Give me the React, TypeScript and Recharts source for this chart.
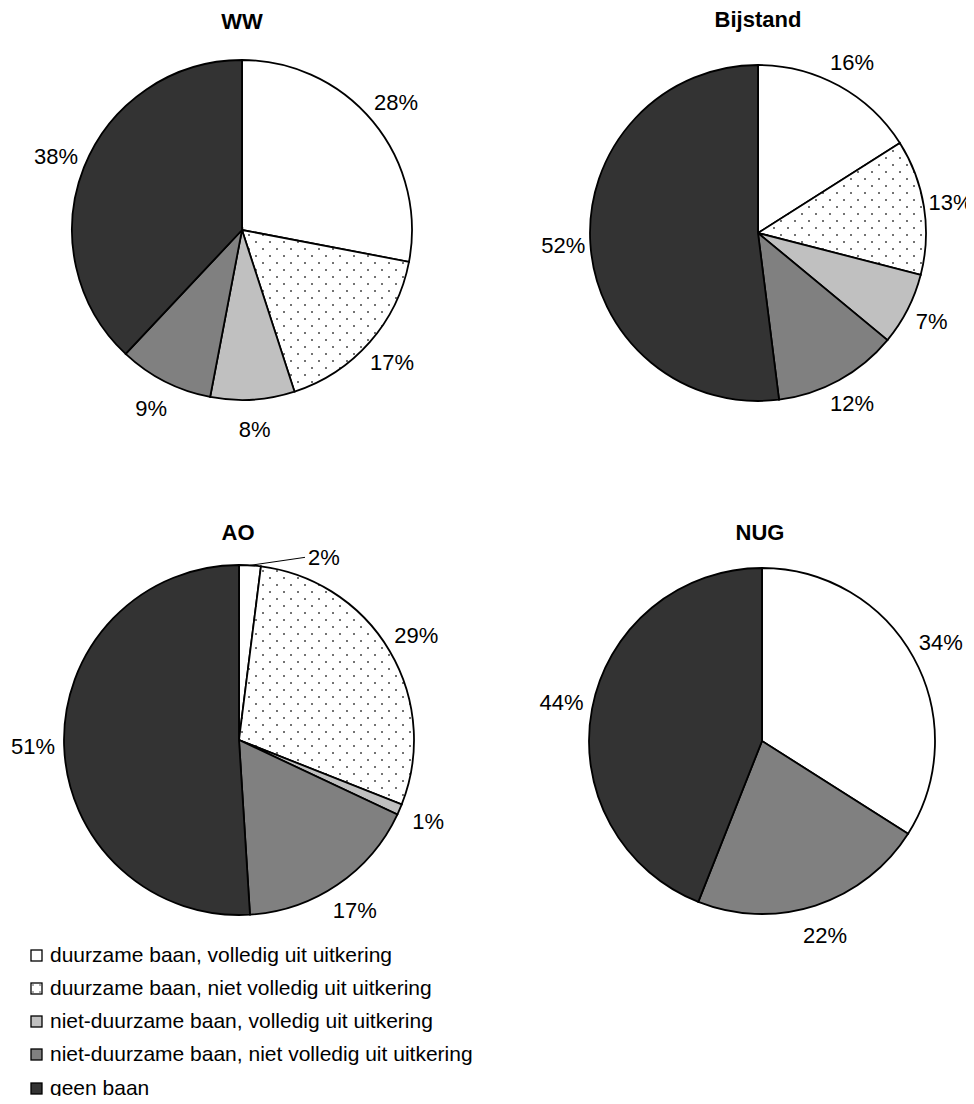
import React from 'react';
import { PieChart, Pie, Cell } from 'recharts';

const categories = [
  'duurzame baan, volledig uit uitkering',
  'duurzame baan, niet volledig uit uitkering',
  'niet-duurzame baan, volledig uit uitkering',
  'niet-duurzame baan, niet volledig uit uitkering',
  'geen baan',
];
const titles = ['WW', 'Bijstand', 'AO', 'NUG'];
const wwValues = [28, 17, 8, 9, 38];
const bijstandValues = [16, 13, 7, 12, 52];
const aoValues = [2, 29, 1, 17, 51];
const nugValues = [34, 0, 0, 22, 44];

const fills = ['#FFFFFF', 'url(#dots)', '#C0C0C0', '#808080', '#333333'];
const FONT = '"Liberation Sans", Arial, Helvetica, sans-serif';
const RADIAN = Math.PI / 180;

const pies = [
  { title: titles[0], values: wwValues, cx: 234, cy: 222, r: 170, off: 30, tx: 234, ty: 14 },
  { title: titles[1], values: bijstandValues, cx: 750, cy: 225, r: 168, off: 27, tx: 750, ty: 12 },
  { title: titles[2], values: aoValues, cx: 231, cy: 732, r: 175, off: 31, tx: 230, ty: 525 },
  { title: titles[3], values: nugValues, cx: 754, cy: 733, r: 173, off: 31, tx: 752, ty: 525 },
];

function makeData(values: number[]) {
  return categories
    .map((name, i) => ({ name, value: values[i], idx: i }))
    .filter((d) => d.value > 0);
}

const makeLabel = (off: number) => (props: any) => {
  const { cx, cy, midAngle, outerRadius, value, index } = props;
  if (!value) return null;
  if (index === 0 && value < 5) {
    const sx = cx + outerRadius * Math.cos(-midAngle * RADIAN);
    const sy = cy + outerRadius * Math.sin(-midAngle * RADIAN);
    const ex = sx + 55;
    const ey = sy - 8;
    return (
      <g>
        <line x1={sx} y1={sy} x2={ex} y2={ey} stroke="#000" strokeWidth={1} />
        <text x={ex + 3} y={ey} textAnchor="start" dominantBaseline="central" fontSize={22} fontFamily={FONT} fill="#000">
          {`${value}%`}
        </text>
      </g>
    );
  }
  const rr = outerRadius + off;
  const x = cx + rr * Math.cos(-midAngle * RADIAN);
  const y = cy + rr * Math.sin(-midAngle * RADIAN);
  return (
    <text x={x} y={y} textAnchor="middle" dominantBaseline="central" fontSize={22} fontFamily={FONT} fill="#000">
      {`${value}%`}
    </text>
  );
};

const legendTop = [934, 967, 1000, 1033, 1067];

export default function App() {
  return (
    <div style={{ position: 'relative', width: 958, height: 1088, background: '#fff', fontFamily: FONT }}>
      <style>{`.recharts-surface { overflow: visible; } .recharts-wrapper { overflow: visible; }`}</style>
      <PieChart width={958} height={950} margin={{ top: 0, right: 0, bottom: 0, left: 0 }}>
        <defs>
          <pattern id="dots" x={0} y={0} width={14} height={14} patternUnits="userSpaceOnUse">
            <rect x={0} y={0} width={14} height={14} fill="#fff" />
            <circle cx={3} cy={3} r={1} fill="#444" />
            <circle cx={10} cy={10} r={1} fill="#444" />
          </pattern>
        </defs>
        {pies.map((p) => (
          <Pie
            key={p.title}
            data={makeData(p.values)}
            dataKey="value"
            nameKey="name"
            cx={p.cx}
            cy={p.cy}
            outerRadius={p.r}
            innerRadius={0}
            startAngle={90}
            endAngle={-270}
            stroke="#000"
            strokeWidth={1.8}
            label={makeLabel(p.off)}
            labelLine={false}
            isAnimationActive={false}
          >
            {makeData(p.values).map((d) => (
              <Cell key={d.name} fill={fills[d.idx]} />
            ))}
          </Pie>
        ))}
      </PieChart>
      {pies.map((p) => (
        <div
          key={'t' + p.title}
          style={{
            position: 'absolute',
            left: p.tx - 100,
            top: p.ty - 13,
            width: 200,
            textAlign: 'center',
            fontWeight: 'bold',
            fontSize: 22,
            lineHeight: '26px',
            letterSpacing: 0,
          }}
        >
          {p.title}
        </div>
      ))}
      {categories.map((c, i) => (
        <div
          key={'l' + i}
          style={{
            position: 'absolute',
            left: 22,
            top: legendTop[i],
            height: 26,
            display: 'flex',
            alignItems: 'center',
            fontSize: 21,
            whiteSpace: 'nowrap',
          }}
        >
          <svg width={13} height={13} style={{ marginRight: 7 }}>
            <defs>
              <pattern id={'ld' + i} x={0} y={0} width={7} height={7} patternUnits="userSpaceOnUse">
                <rect x={0} y={0} width={7} height={7} fill="#fff" />
                <circle cx={3} cy={3} r={0.8} fill="#444" />
              </pattern>
            </defs>
            <rect x={1} y={1} width={11} height={11} fill={i === 1 ? `url(#ld${i})` : fills[i]} stroke="#000" strokeWidth={1.3} />
          </svg>
          <span>{c}</span>
        </div>
      ))}
    </div>
  );
}
